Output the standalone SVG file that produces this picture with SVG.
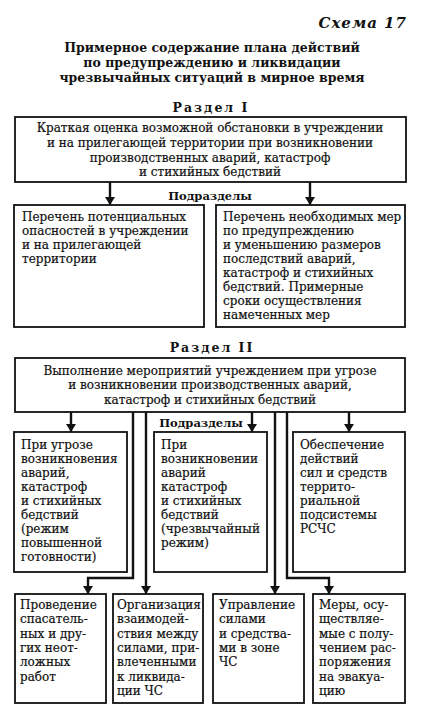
<svg xmlns="http://www.w3.org/2000/svg" width="424" height="713" viewBox="0 0 424 713">
<style>
.t{font-family:"DejaVu Serif","Liberation Serif",serif;font-size:12px;fill:#111;stroke:#111;stroke-width:0.2}
.b{font-family:"DejaVu Serif","Liberation Serif",serif;font-size:12.5px;font-weight:bold;fill:#111}
.s{font-size:11.5px}
.c{text-anchor:middle}
.box{fill:#fff;stroke:#111;stroke-width:1.8}
.ln{fill:none;stroke:#111;stroke-width:2.4}
</style>
<defs>
<marker id="ah" viewBox="0 0 8 10" refX="8" refY="5" markerWidth="8" markerHeight="10" markerUnits="userSpaceOnUse" orient="auto">
<path d="M0,0 L8,5 L0,10 z" fill="#111"/>
</marker>
</defs>
<rect width="424" height="713" fill="#fff"/>
<text class="b" x="407" y="28" text-anchor="end" style="font-style:italic;font-size:15px;letter-spacing:1px">Схема 17</text>
<g id="title">
<text class="b c" x="212" y="52">Примерное содержание плана действий</text>
<text class="b c" x="212" y="67">по предупреждению и ликвидации</text>
<text class="b c" x="212" y="82">чрезвычайных ситуаций в мирное время</text>
</g>
<text class="b c" x="211" y="112" style="letter-spacing:2px">Раздел I</text>
<g id="connectors">
<line class="ln" x1="110" y1="182" x2="110" y2="205" marker-end="url(#ah)"/>
<line class="ln" x1="310" y1="182" x2="310" y2="205" marker-end="url(#ah)"/>
<line class="ln" x1="71" y1="412" x2="71" y2="432" marker-end="url(#ah)"/>
<line class="ln" x1="252" y1="412" x2="252" y2="432" marker-end="url(#ah)"/>
<line class="ln" x1="349" y1="412" x2="349" y2="432" marker-end="url(#ah)"/>
<path class="ln" d="M133,412 V578 H88 V594" marker-end="url(#ah)"/>
<path class="ln" d="M146,412 V594" marker-end="url(#ah)"/>
<path class="ln" d="M275,412 V594" marker-end="url(#ah)"/>
<path class="ln" d="M287,412 V578 H329 V594" marker-end="url(#ah)"/>
</g>
<g id="sec1">
<rect class="box" x="15" y="117" width="391" height="65"/>
<text class="t c" x="210" y="132">Краткая оценка возможной обстановки в учреждении</text>
<text class="t c" x="210" y="147">и на прилегающей территории при возникновении</text>
<text class="t c" x="210" y="162">производственных аварий, катастроф</text>
<text class="t c" x="210" y="176">и стихийных бедствий</text>
</g>
<text class="b s c" x="210" y="200">Подразделы</text>
<g id="sub1">
<rect class="box" x="14" y="205" width="190" height="122"/>
<text class="t" x="22" y="221">Перечень потенциальных</text>
<text class="t" x="22" y="235">опасностей в учреждении</text>
<text class="t" x="22" y="249">и на прилегающей</text>
<text class="t" x="22" y="263">территории</text>
</g>
<g id="sub2">
<rect class="box" x="216" y="205" width="189" height="122"/>
<text class="t" x="223" y="221">Перечень необходимых мер</text>
<text class="t" x="223" y="235">по предупреждению</text>
<text class="t" x="223" y="249">и уменьшению размеров</text>
<text class="t" x="223" y="263">последствий аварий,</text>
<text class="t" x="223" y="277">катастроф и стихийных</text>
<text class="t" x="223" y="291">бедствий. Примерные</text>
<text class="t" x="223" y="305">сроки осуществления</text>
<text class="t" x="223" y="319">намеченных мер</text>
</g>
<text class="b c" x="212" y="352" style="letter-spacing:2px">Раздел II</text>
<g id="sec2">
<rect class="box" x="15" y="358" width="390" height="54"/>
<text class="t c" x="210" y="375">Выполнение мероприятий учреждением при угрозе</text>
<text class="t c" x="210" y="389">и возникновении производственных аварий,</text>
<text class="t c" x="210" y="404">катастроф и стихийных бедствий</text>
</g>
<text class="b s c" x="201" y="427">Подразделы</text>
<g id="mid1">
<rect class="box" x="14" y="432" width="113" height="140"/>
<text class="t" x="21" y="449">При угрозе</text>
<text class="t" x="21" y="463">возникновения</text>
<text class="t" x="21" y="477">аварий,</text>
<text class="t" x="21" y="491">катастроф</text>
<text class="t" x="21" y="505">и стихийных</text>
<text class="t" x="21" y="519">бедствий</text>
<text class="t" x="21" y="533">(режим</text>
<text class="t" x="21" y="547">повышенной</text>
<text class="t" x="21" y="561">готовности)</text>
</g>
<g id="mid2">
<rect class="box" x="154" y="432" width="113" height="140"/>
<text class="t" x="161" y="449">При</text>
<text class="t" x="161" y="463">возникновении</text>
<text class="t" x="161" y="477">аварий</text>
<text class="t" x="161" y="491">катастроф</text>
<text class="t" x="161" y="505">и стихийных</text>
<text class="t" x="161" y="519">бедствий</text>
<text class="t" x="161" y="533">(чрезвычайный</text>
<text class="t" x="161" y="547">режим)</text>
</g>
<g id="mid3">
<rect class="box" x="293" y="432" width="112" height="140"/>
<text class="t" x="300" y="449">Обеспечение</text>
<text class="t" x="300" y="463">действий</text>
<text class="t" x="300" y="477">сил и средств</text>
<text class="t" x="300" y="491">террито-</text>
<text class="t" x="300" y="505">риальной</text>
<text class="t" x="300" y="519">подсистемы</text>
<text class="t" x="300" y="533">РСЧС</text>
</g>
<g id="bot1">
<rect class="box" x="15" y="594" width="91" height="109"/>
<text class="t" x="20" y="609">Проведение</text>
<text class="t" x="20" y="623">спасатель-</text>
<text class="t" x="20" y="638">ных и дру-</text>
<text class="t" x="20" y="652">гих неот-</text>
<text class="t" x="20" y="666">ложных</text>
<text class="t" x="20" y="681">работ</text>
</g>
<g id="bot2">
<rect class="box" x="113" y="594" width="90" height="109"/>
<text class="t" x="117" y="609">Организация</text>
<text class="t" x="117" y="623">взаимодей-</text>
<text class="t" x="117" y="638">ствия между</text>
<text class="t" x="117" y="652">силами, при-</text>
<text class="t" x="117" y="666">влеченными</text>
<text class="t" x="117" y="681">к ликвида-</text>
<text class="t" x="117" y="695">ции ЧС</text>
</g>
<g id="bot3">
<rect class="box" x="213" y="594" width="91" height="109"/>
<text class="t" x="219" y="609">Управление</text>
<text class="t" x="219" y="623">силами</text>
<text class="t" x="219" y="638">и средства-</text>
<text class="t" x="219" y="652">ми в зоне</text>
<text class="t" x="219" y="666">ЧС</text>
</g>
<g id="bot4">
<rect class="box" x="313" y="594" width="92" height="109"/>
<text class="t" x="319" y="609">Меры, осу-</text>
<text class="t" x="319" y="623">ществляе-</text>
<text class="t" x="319" y="638">мые с полу-</text>
<text class="t" x="319" y="652">чением рас-</text>
<text class="t" x="319" y="666">поряжения</text>
<text class="t" x="319" y="681">на эвакуа-</text>
<text class="t" x="319" y="695">цию</text>
</g>
</svg>
